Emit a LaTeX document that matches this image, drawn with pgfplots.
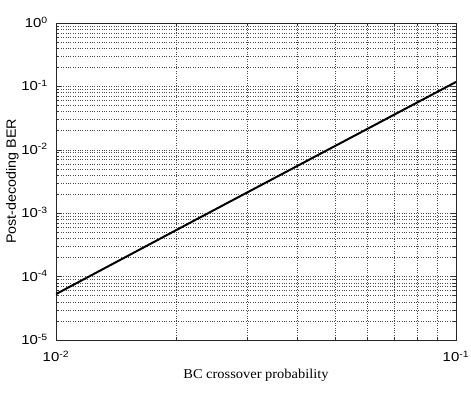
\documentclass[border=0pt]{standalone}
\usepackage{fontspec}
\setmainfont{Liberation Serif}
\newfontfamily\arial{Liberation Sans}
\usepackage{graphicx}
\usepackage{pgfplots}
\pgfplotsset{compat=1.18}
\newcommand\tl[1]{\scalebox{1.15}[1]{10\textsuperscript{#1}}}
\begin{document}
\begin{tikzpicture}
\begin{axis}[
  scale only axis, width=400pt, height=317pt,
  xmode=log, ymode=log,
  xmin=0.01, xmax=0.1, ymin=1e-5, ymax=1,
  xtick={0.01,0.1},
  xticklabels={\tl{-2},\tl{-1}},
  ytick={1e-5,1e-4,1e-3,1e-2,1e-1,1},
  yticklabels={\tl{-5},\tl{-4},\tl{-3},\tl{-2},\tl{-1},\tl{0}},
  minor xtick={0.02,0.03,0.04,0.05,0.06,0.07,0.08,0.09},
  minor ytick={2e-5,3e-5,4e-5,5e-5,6e-5,7e-5,8e-5,9e-5,
               2e-4,3e-4,4e-4,5e-4,6e-4,7e-4,8e-4,9e-4,
               2e-3,3e-3,4e-3,5e-3,6e-3,7e-3,8e-3,9e-3,
               2e-2,3e-2,4e-2,5e-2,6e-2,7e-2,8e-2,9e-2,
               2e-1,3e-1,4e-1,5e-1,6e-1,7e-1,8e-1,9e-1},
  grid=both,
  major grid style={dotted, black!70, line width=0.5pt},
  minor grid style={dotted, black!70, line width=0.5pt},
  axis line style={black!85, line width=0.9pt},
  tick align=inside,
  major tick length=5pt, minor tick length=3pt,
  tick style={black!80, line width=0.5pt},
  tick label style={font=\fontsize{13}{13}\selectfont\arial},
  xticklabel style={anchor=base, inner sep=0pt, yshift=-21.7pt},
  yticklabel style={anchor=base east, inner sep=0pt, xshift=-8pt, yshift=-4.5pt},
  xlabel={\scalebox{1.07}[1]{\fontsize{13.5}{13.5}\selectfont BC crossover probability}},
  xlabel style={at={(axis description cs:0.5,0)}, anchor=base, inner sep=0pt, yshift=-38.7pt},
  ylabel={\scalebox{1.06}[1]{\fontsize{13.5}{13.5}\selectfont\arial Post-decoding BER}},
  ylabel style={at={(axis description cs:-0.109,0.5)}, anchor=center, inner sep=0pt},
]
\addplot[black, line width=2pt] coordinates {
  (0.01,5.3e-5) (0.02,5.43e-4) (0.03,2.11e-3) (0.05,1.16e-2) (0.07,3.57e-2) (0.1,0.1175)
};
\end{axis}
\pgfresetboundingbox
\path (-56pt,-54pt) rectangle (415pt,340pt);
\end{tikzpicture}
\end{document}
